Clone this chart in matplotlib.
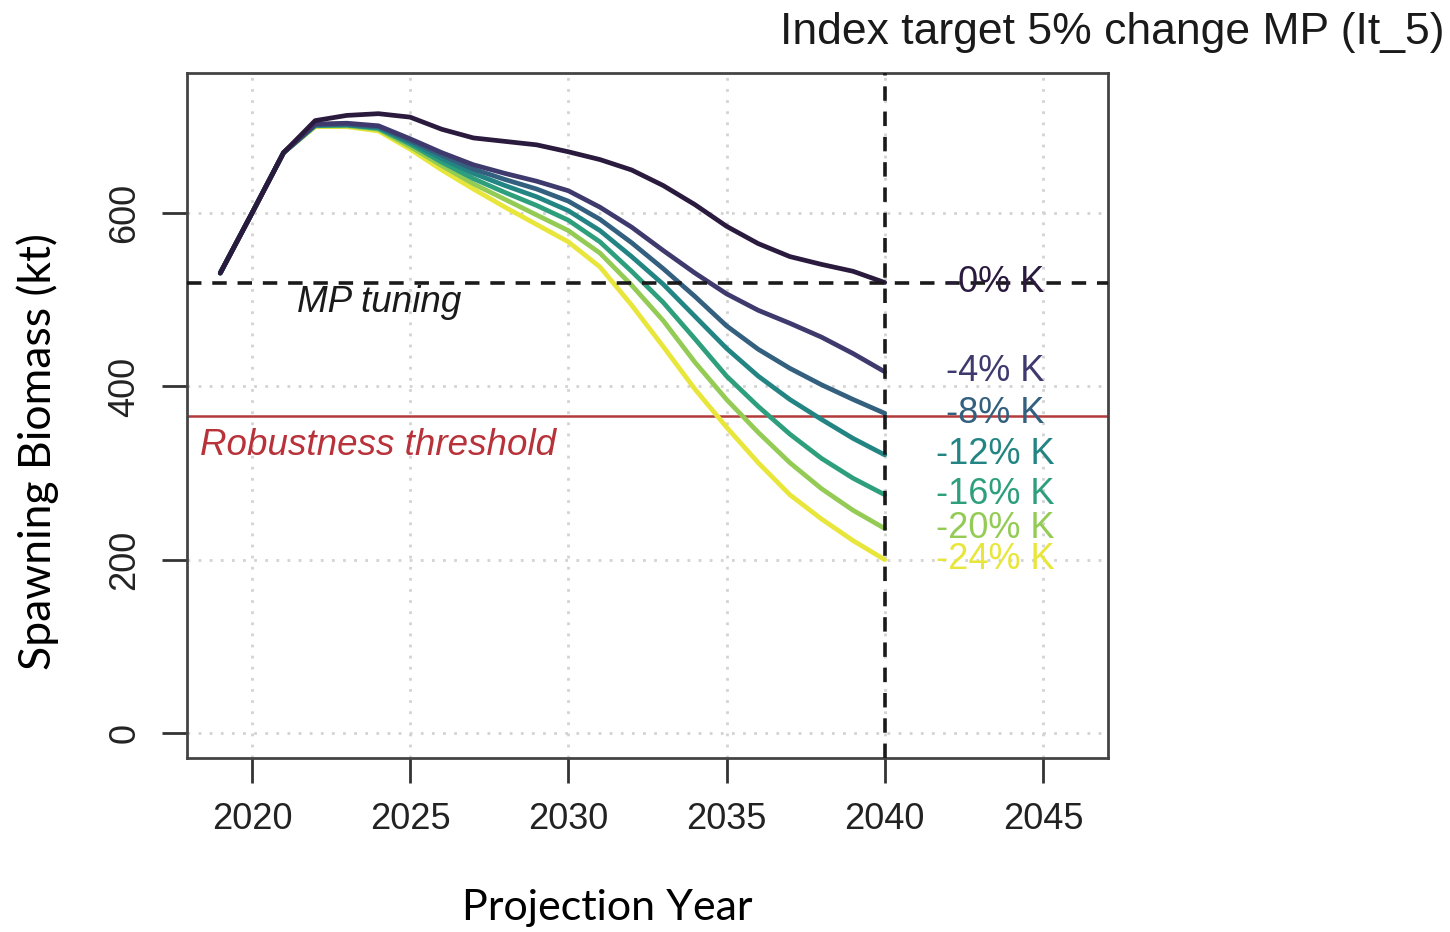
import matplotlib
matplotlib.use("Agg")
import matplotlib.pyplot as plt

# spawning biomass projections (kt) under declining carrying capacity K
years = list(range(2019, 2041))
early = [531, 600, 670]

sb_k0 = [531, 600, 670, 707, 713, 715, 711, 697, 687, 683, 679, 671,
         662, 650, 632, 610, 585, 565, 550, 541, 533, 520]
sb_k4 = early + [703, 704, 701, 686, 670, 656, 646, 637, 626, 607, 584,
                 557, 531, 507, 488, 473, 457, 438, 417]
sb_k8 = early + [702, 703, 700, 684, 667, 651, 639, 628, 614, 593, 566,
                 536, 504, 470, 443, 421, 402, 385, 369]
sb_k12 = early + [702, 702, 699, 682, 663, 646, 632, 619, 603, 580, 550,
                  518, 481, 444, 412, 385, 362, 340, 321]
sb_k16 = early + [701, 702, 698, 680, 659, 640, 624, 609, 592, 567, 533,
                  497, 455, 412, 377, 345, 317, 294, 275]
sb_k20 = early + [701, 701, 697, 677, 655, 634, 616, 598, 580, 554, 517,
                  476, 428, 385, 347, 312, 282, 257, 236]
sb_k24 = early + [700, 700, 695, 674, 650, 628, 607, 587, 567, 538, 494,
                  446, 397, 353, 312, 275, 247, 222, 200]

series = [sb_k0, sb_k4, sb_k8, sb_k12, sb_k16, sb_k20, sb_k24]
labels = ["-0% K", "-4% K", "-8% K", "-12% K", "-16% K", "-20% K", "-24% K"]
colors = ["#2a1a3e", "#3f3a6e", "#33607f", "#238583", "#2e9f7c", "#93cb55", "#e8e63a"]

mp_tuning = 520
robust_threshold = 366
end_year = 2040

fig = plt.figure(figsize=(14.5, 9.32), dpi=100)
ax = fig.add_axes([0.129, 0.1867, 0.635, 0.735])

ax.set_xlim(2017.95, 2047.05)
ax.set_ylim(-29, 762)

xt = [2020, 2025, 2030, 2035, 2040, 2045]
yt = [0, 200, 400, 600]
for x in xt:
    ax.axvline(x, color="#d3d3d3", lw=2, ls=(0, (1, 3)), zorder=0)
for y in yt:
    ax.axhline(y, color="#d3d3d3", lw=2, ls=(0, (1, 3)), zorder=0)

# reference lines
ax.axhline(mp_tuning, color="#1a1a1a", lw=2.6, ls=(0, (4, 3)), zorder=4)
ax.axhline(robust_threshold, color="#b23a3a", lw=1.8, zorder=1)
ax.axvline(end_year, color="#1a1a1a", lw=2.6, ls=(0, (4, 3)), zorder=4)

# draw the lowest scenario first so the no-change run sits on top
for vals, c in reversed(list(zip(series, colors))):
    ax.plot(years, vals, color=c, lw=3.4, solid_capstyle="round",
            solid_joinstyle="round", zorder=3)

for vals, lab, c in zip(series, labels, colors):
    ax.text(2043.5, vals[-1], lab, color=c, fontsize=26, family="Liberation Sans",
            ha="center", va="center", zorder=5)

ax.text(2021.42, 497, "MP tuning", fontsize=26.5, style="italic", color="#1a1a1a",
        family="Liberation Sans", ha="left", va="center")
ax.text(2018.35, 332, "Robustness threshold", fontsize=26.5, style="italic",
        color="#b8323a", family="Liberation Sans", ha="left", va="center")

ax.set_xticks(xt)
ax.set_yticks(yt)
ax.tick_params(axis="both", length=18, width=2, color="#333333", direction="out",
               labelsize=26, labelcolor="#222222", pad=14)
for lab in ax.get_xticklabels() + ax.get_yticklabels():
    lab.set_family("Liberation Sans")
for lab in ax.get_yticklabels():
    lab.set_rotation(90)
    lab.set_va("center")

for sp in ax.spines.values():
    sp.set_color("#444444")
    sp.set_linewidth(2)

fig.text(607 / 1450, 1 - 908 / 932, "Projection Year", fontsize=31, family="Lato",
         ha="center", va="center")
fig.text(38 / 1450, 1 - 452 / 932, "Spawning Biomass (kt)", fontsize=32,
         family="Lato", rotation=90, ha="center", va="center")

fig.text(0.9965, 0.965, "Index target 5% change MP (It_5)", fontsize=32,
         family="Liberation Sans", ha="right", va="center", color="#1a1a1a")

fig.savefig("out.png", dpi=100)
